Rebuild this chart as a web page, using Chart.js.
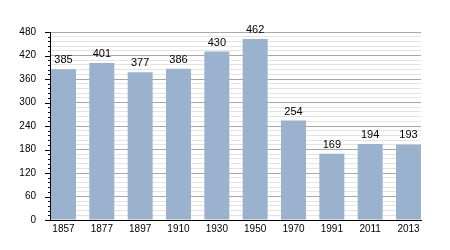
<!DOCTYPE html>
<html>
<head>
<meta charset="utf-8">
<script src="https://cdn.jsdelivr.net/npm/chart.js@4"></script>
<style>
html,body{margin:0;padding:0;background:#fff;}
#wrap{width:450px;height:250px;position:relative;}
</style>
</head>
<body>
<div id="wrap"><canvas id="c" width="450" height="250"></canvas></div>
<script>
const years = ['1857','1877','1897','1910','1930','1950','1970','1991','2011','2013'];
const population = [385, 401, 377, 386, 430, 462, 254, 169, 194, 193];
const yMin = 0, yMax = 480, yLabelStep = 60, yMinorStep = 12;

const FONT = '"Liberation Sans", Arial, sans-serif';
const BAR_COLOR = '#9ab2ce';

const labelPlugin = {
  id: 'valueLabels',
  afterDatasetsDraw(chart) {
    const ctx = chart.ctx;
    const meta = chart.getDatasetMeta(0);
    ctx.save();
    ctx.font = '11px ' + FONT;
    ctx.fillStyle = '#000';
    ctx.textAlign = 'center';
    ctx.textBaseline = 'middle';
    meta.data.forEach((bar, i) => {
      ctx.fillText(String(population[i]), bar.x, bar.y - 9);
    });
    ctx.restore();
  }
};

const tickPlugin = {
  id: 'yTicks',
  afterDraw(chart) {
    const y = chart.scales.y;
    const ctx = chart.ctx;
    const x0 = chart.chartArea.left;
    ctx.save();
    ctx.strokeStyle = '#000';
    ctx.lineWidth = 1;
    y.ticks.forEach(t => {
      const py = Math.round(y.getPixelForValue(t.value)) + 0.5;
      const len = (t.value % yLabelStep === 0) ? 5 : 2;
      ctx.beginPath();
      ctx.moveTo(x0 - len, py);
      ctx.lineTo(x0, py);
      ctx.stroke();
    });
    ctx.restore();
  }
};

new Chart(document.getElementById('c'), {
  type: 'bar',
  data: {
    datasets: [{
      data: population.map((v, i) => ({x: i, y: v})),
      backgroundColor: BAR_COLOR,
      borderWidth: 0,
      categoryPercentage: 1,
      barPercentage: 0.652
    }]
  },
  options: {
    responsive: false,
    animation: false,
    devicePixelRatio: 1,
    layout: {padding: {top: 32, right: 29, left: 0, bottom: 0}},
    plugins: {legend: {display: false}, tooltip: {enabled: false}},
    scales: {
      x: {
        type: 'linear',
        offset: false,
        min: -0.352,
        max: 9.326,
        afterBuildTicks(scale) { scale.ticks = years.map((_, i) => ({value: i})); },
        afterFit(scale) { scale.height = 30; },
        grid: {display: false, drawTicks: false, offset: false},
        border: {display: true, color: '#000', width: 1},
        ticks: {
          autoSkip: false,
          maxRotation: 0,
          padding: 3,
          color: '#000',
          font: {family: FONT, size: 10},
          callback: (v) => years[v] ?? ''
        }
      },
      y: {
        min: yMin,
        max: yMax,
        afterFit(scale) { scale.width = 50; },
        grid: {
          drawTicks: false,
          color: (c) => (c.tick && c.tick.value % yLabelStep === 0) ? '#a8a8a8' : '#e4e4e4',
          lineWidth: 1
        },
        border: {display: true, color: '#000', width: 1},
        ticks: {
          stepSize: yMinorStep,
          autoSkip: false,
          padding: 14,
          color: '#000',
          font: {family: FONT, size: 10},
          callback: (v) => (v % yLabelStep === 0) ? String(v) : ''
        }
      }
    }
  },
  plugins: [labelPlugin, tickPlugin]
});
</script>
</body>
</html>
